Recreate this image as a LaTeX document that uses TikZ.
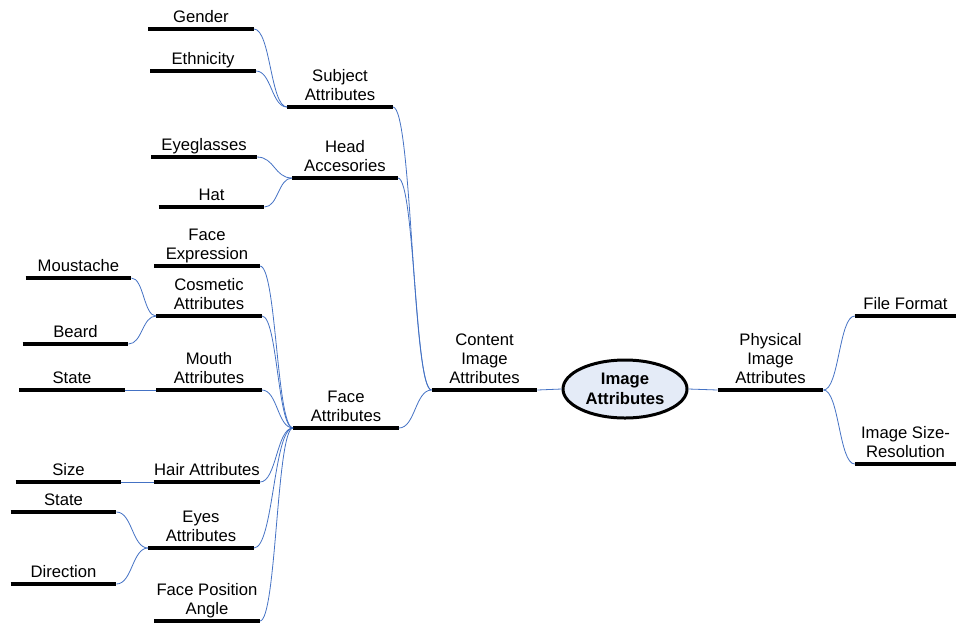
\documentclass[tikz,border=0pt]{standalone}
\usepackage{fontspec}
\setmainfont{Liberation Sans}
\usepackage{tikz}
\usetikzlibrary{shapes.geometric,calc}

\definecolor{linkblue}{RGB}{68,114,196}
\definecolor{rootfill}{RGB}{228,235,247}

\tikzset{
    topic/.style={anchor=south, align=center, inner xsep=0pt, inner ysep=4.5pt,
        minimum width=79pt, text depth=0pt, font=\fontsize{12.5}{14.5}\selectfont},
    leaf/.style={topic, minimum width=75.75pt},
    bar/.style={line width=2.4pt, black},
    link/.style={linkblue, line width=0.6pt},
    branch/.style={to path={let \p1=(\tikztostart), \p2=(\tikztotarget) in
        .. controls ({0.5*\x1+0.5*\x2},\y1) and ({0.5*\x1+0.5*\x2},\y2) .. (\tikztotarget)}}
}

\begin{document}
\begin{tikzpicture}[x=0.75pt, y=-0.75pt]
    \useasboundingbox (0,0) rectangle (956,622);

    % Root
    \node[ellipse, draw, line width=2.25pt, fill=rootfill, minimum width=93pt, minimum height=43.5pt,
        inner sep=0pt, align=center, font=\fontsize{12.5}{14.5}\selectfont\bfseries] (root) at (625,389) {Image\\Attributes};

    % Main branches
    \node[topic] (content) at (484.5,390) {Content\\Image\\Attributes};
    \node[topic] (physical) at (770.5,390) {Physical\\Image\\Attributes};

    % Physical side
    \node[leaf] (fileformat) at (905.5,316) {File Format};
    \node[leaf] (sizeres) at (905.5,464) {Image Size-\\Resolution};

    % Content side
    \node[topic] (subject) at (340,107) {Subject\\Attributes};
    \node[topic] (head) at (345,178) {Head\\Accesories};
    \node[topic] (face) at (346,428) {Face\\Attributes};

    \node[topic] (gender) at (201,29) {Gender};
    \node[topic] (ethnicity) at (203,71) {Ethnicity};
    \node[topic] (eyeglasses) at (204,157) {Eyeglasses};
    \node[topic] (hat) at (211.5,207) {Hat};

    \node[topic] (expression) at (207,266) {Face\\Expression};
    \node[topic] (cosmetic) at (209,316) {Cosmetic\\Attributes};
    \node[topic] (mouth) at (209,390) {Mouth\\Attributes};
    \node[topic] (hair) at (207,482) {Hair Attributes};
    \node[topic] (eyes) at (201,548) {Eyes\\Attributes};
    \node[topic] (position) at (207,621) {Face Position\\Angle};

    \node[topic] (moustache) at (78.5,278) {Moustache};
    \node[topic] (beard) at (75.5,344) {Beard};
    \node[topic] (mstate) at (72,390) {State};
    \node[topic] (hsize) at (68.5,482) {Size};
    \node[topic] (estate) at (63.5,512) {State};
    \node[topic] (direction) at (63.5,584) {Direction};

    % Underlines
    \foreach \n in {content,physical,fileformat,sizeres,subject,head,face,gender,ethnicity,
        eyeglasses,hat,expression,cosmetic,mouth,hair,eyes,position,moustache,beard,
        mstate,hsize,estate,direction}
        \draw[bar] (\n.south west) -- (\n.south east);

    % Connectors
    \draw[link] (content.south east) to[branch] (root.west);
    \draw[link] (root.east) to[branch] (physical.south west);
    \foreach \b in {fileformat,sizeres}
        \draw[link] (physical.south east) to[branch] (\b.south west);
    \foreach \a/\b in {subject/content,head/content,face/content,
        gender/subject,ethnicity/subject,eyeglasses/head,hat/head,
        expression/face,cosmetic/face,mouth/face,hair/face,eyes/face,position/face,
        moustache/cosmetic,beard/cosmetic,mstate/mouth,hsize/hair,estate/eyes,direction/eyes}
        \draw[link] (\a.south east) to[branch] (\b.south west);
\end{tikzpicture}
\end{document}
